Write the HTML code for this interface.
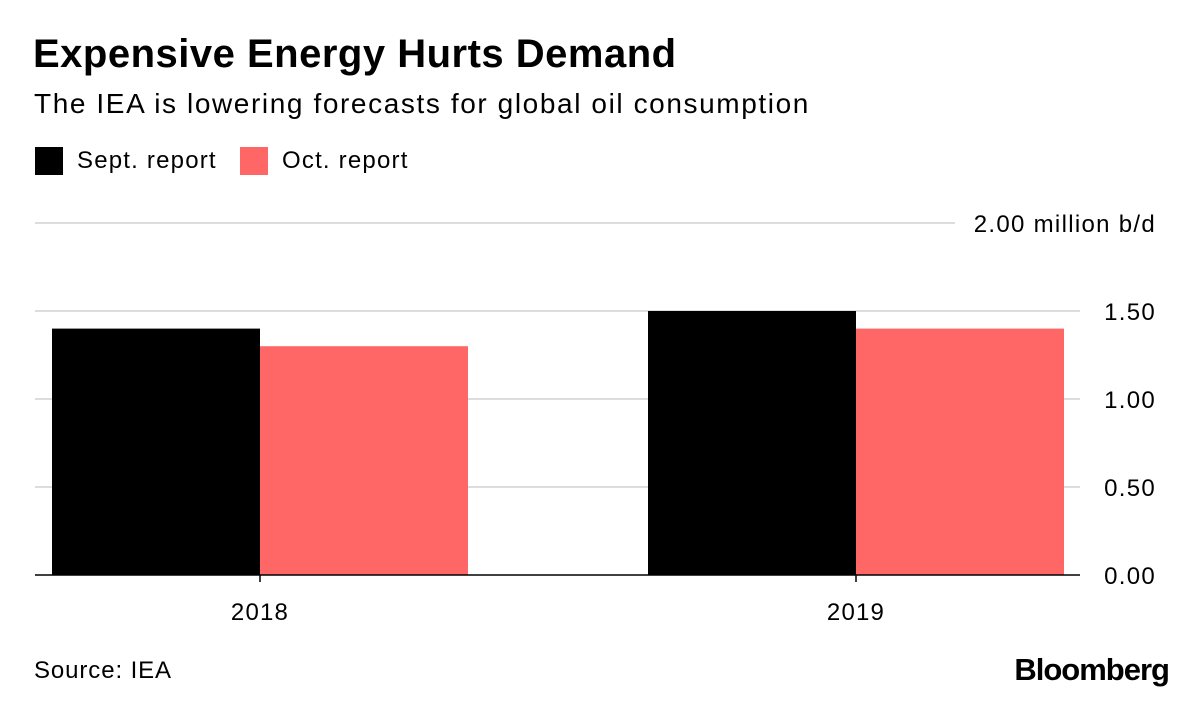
<!DOCTYPE html>
<html><head><meta charset="utf-8"><style>
body{margin:0;width:1200px;height:701px;background:#fff;font-family:"Liberation Sans",sans-serif;overflow:hidden;position:relative}
.t{position:absolute;white-space:nowrap}
</style></head><body>
<div class="t" style="left:33px;top:32px;font-size:40px;font-weight:bold;letter-spacing:0.5px">Expensive Energy Hurts Demand</div>
<div class="t" style="left:34px;top:88px;font-size:28px;letter-spacing:1.6px">The IEA is lowering forecasts for global oil consumption</div>
<div>
<div style="position:absolute;left:35px;top:147px;width:28px;height:28px;background:#000"></div>
<div class="t" style="left:77px;top:147px;font-size:24px;letter-spacing:1.2px">Sept. report</div></div>
<div>
<div style="position:absolute;left:240px;top:147px;width:28px;height:28px;background:#ff6666"></div>
<div class="t" style="left:282px;top:147px;font-size:24px;letter-spacing:1.2px">Oct. report</div></div>
<svg id="c" width="1200" height="701" style="position:absolute;left:0;top:0"></svg>
<div class="t" style="left:34px;top:657px;font-size:24px;letter-spacing:0.9px">Source: IEA</div>
<div class="t" style="right:31px;top:652px;font-size:31px;font-weight:bold;letter-spacing:-1px">Bloomberg</div>
<script>
const categories=["2018","2019"];
const sept=[1.40,1.50];
const oct=[1.30,1.40];
const ticks=[0,0.5,1,1.5,2];
const tickLabels=["0.00","0.50","1.00","1.50","2.00 million b/d"];
const svg=document.getElementById('c');const NS="http://www.w3.org/2000/svg";
const y0=575,pxPer=176;
function y(v){return y0-v*pxPer;}
function mk(t,a){const e=document.createElementNS(NS,t);for(const k in a)e.setAttribute(k,a[k]);svg.appendChild(e);return e;}
ticks.forEach((v,i)=>{
 if(v>0){const g=mk('line',{x1:35,x2:i===ticks.length-1?955:1080,y1:y(v),y2:y(v),stroke:'#dddddd','stroke-width':2});
 
 }
 const t=mk('text',{x:1156,y:y(v)+9,'text-anchor':'end','font-size':24,'letter-spacing':1.3,'font-family':'Liberation Sans, sans-serif',fill:'#000'});
 t.textContent=tickLabels[i];
 
 
});
const groupStart=52,groupStep=596,bw=208;
categories.forEach((c,i)=>{
 const gx=groupStart+i*groupStep;
 const b1=mk('rect',{x:gx,y:y(sept[i]),width:bw,height:y0-y(sept[i]),fill:'#000'});
 
 
 const b2=mk('rect',{x:gx+bw,y:y(oct[i]),width:bw,height:y0-y(oct[i]),fill:'#ff6666'});
 
 
 const tk=mk('line',{x1:gx+bw,x2:gx+bw,y1:y0,y2:y0+7,stroke:'#000','stroke-width':1.5});
 
 
 const lt=mk('text',{x:gx+bw,y:620,'text-anchor':'middle','font-size':24,'letter-spacing':1.2,'font-family':'Liberation Sans, sans-serif'});
 lt.textContent=c;
 
 
});
const ax=mk('line',{x1:35,x2:1080,y1:y0,y2:y0,stroke:'#000','stroke-width':1.5});


</script>
</body></html>
